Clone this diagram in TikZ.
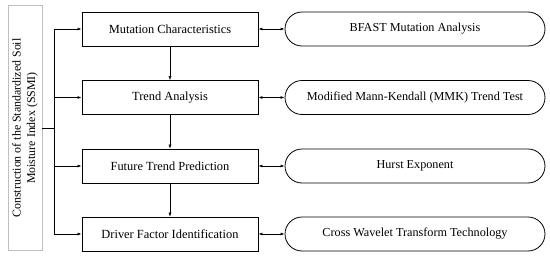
\documentclass[tikz,border=0pt]{standalone}
\usepackage{fontspec}
\setmainfont{Liberation Serif}
\usetikzlibrary{arrows.meta}
\tikzset{
  stagebox/.style={draw,thick,minimum width=176pt,minimum height=34pt,inner sep=0pt,font=\fontsize{12.4}{14}\selectfont},
  methodbox/.style={draw,thick,rounded corners=17pt,minimum width=260pt,minimum height=34pt,inner sep=0pt,font=\fontsize{12.2}{14}\selectfont},
  link/.style={-{Latex[length=4pt,width=3pt]}},
  duallink/.style={{Latex[length=4pt,width=3pt]}-{Latex[length=4pt,width=3pt]}}
}
\begin{document}
\begin{tikzpicture}[x=1pt,y=-1pt]
\useasboundingbox (0,0) rectangle (550,260);
\node[draw=black!25,thick,minimum width=34pt,minimum height=245pt,inner sep=0pt] (ssmi) at (25,128) {};
\node[rotate=90,align=center,font=\fontsize{11.9}{14.5}\selectfont] (ssmitext) at (ssmi.center) {Construction of the Standardized Soil\\Moisture Index (SSMI)};
\node[stagebox] (mut) at (170,29) {Mutation Characteristics};
\node[stagebox] (trend) at (170,97.5) {Trend Analysis};
\node[stagebox] (future) at (170,166) {Future Trend Prediction};
\node[stagebox] (driver) at (170,234) {Driver Factor Identification};
\node[methodbox] (bfast) at (415,29) {BFAST Mutation Analysis};
\node[methodbox] (mmk) at (415,97.5) {Modified Mann-Kendall (MMK) Trend Test};
\node[methodbox] (hurst) at (415,166) {Hurst Exponent};
\node[methodbox] (xwt) at (415,234) {Cross Wavelet Transform Technology};
\coordinate (fork) at (54,128);
\draw[thick] (ssmi.east|-fork) -- (fork);
\draw[thick] (fork|-mut) -- (fork|-driver);
\foreach \s in {mut,trend,future,driver}
  \draw[thick,link] (fork|-\s) -- (\s.west);
\draw[link] (mut) -- (trend);
\draw[link] (trend) -- (future);
\draw[link] (future) -- (driver);
\draw[thick,duallink] (mut) -- (bfast);
\draw[thick,duallink] (trend) -- (mmk);
\draw[thick,duallink] (future) -- (hurst);
\draw[thick,duallink] (driver) -- (xwt);
\end{tikzpicture}
\end{document}
